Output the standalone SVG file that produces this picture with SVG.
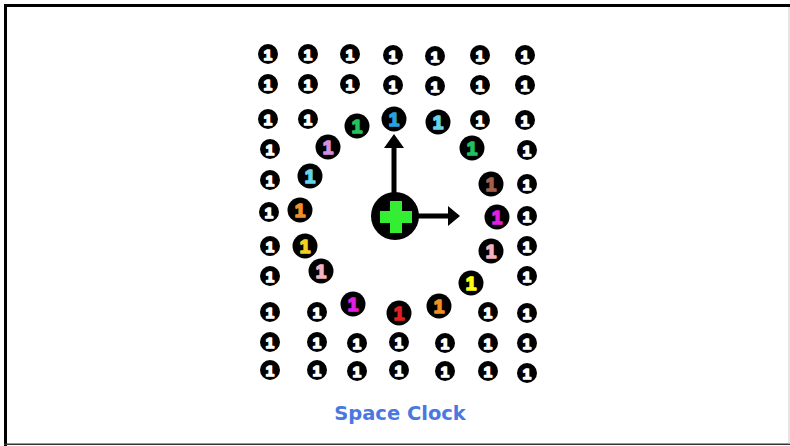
<svg xmlns="http://www.w3.org/2000/svg" width="790" height="446" viewBox="0 0 790 446">
<style>
.d{fill:#000}
.w{font-family:"Liberation Sans",Arial,sans-serif;font-weight:bold;font-size:15px;fill:#fff;stroke:#fff;stroke-width:1.7;stroke-linejoin:round;text-anchor:middle}
.c{font-family:"Liberation Sans",Arial,sans-serif;font-weight:bold;font-size:19px;stroke-width:1.7;stroke-linejoin:round;text-anchor:middle}
.ln{stroke:#000;stroke-width:5;fill:none}
.title{font-family:"DejaVu Sans",sans-serif;font-weight:bold;font-size:19.5px;fill:#4a78e0;text-anchor:middle}
</style>
<rect x="0" y="0" width="790" height="446" fill="#fff"/>
<rect x="4" y="4" width="786" height="3" fill="#000"/>
<rect x="4" y="4" width="3" height="442" fill="#000"/>
<rect x="4" y="443.5" width="786" height="1.5" fill="#333"/>
<rect x="788.5" y="7" width="1" height="437" fill="#ccc"/>

<g id="grid">
<g id="n1-1"><circle class="d" cx="268" cy="54" r="10"/><text class="w" x="268" y="59.5">1</text></g>
<g id="n1-2"><circle class="d" cx="308" cy="54" r="10"/><text class="w" x="308" y="59.5">1</text></g>
<g id="n1-3"><circle class="d" cx="350" cy="54" r="10"/><text class="w" x="350" y="59.5">1</text></g>
<g id="n1-4"><circle class="d" cx="393" cy="55" r="10"/><text class="w" x="393" y="60.5">1</text></g>
<g id="n1-5"><circle class="d" cx="435" cy="56" r="10"/><text class="w" x="435" y="61.5">1</text></g>
<g id="n1-6"><circle class="d" cx="480" cy="55" r="10"/><text class="w" x="480" y="60.5">1</text></g>
<g id="n1-7"><circle class="d" cx="525" cy="55" r="10"/><text class="w" x="525" y="60.5">1</text></g>

<g id="n2-1"><circle class="d" cx="268" cy="84" r="10"/><text class="w" x="268" y="89.5">1</text></g>
<g id="n2-2"><circle class="d" cx="308" cy="84" r="10"/><text class="w" x="308" y="89.5">1</text></g>
<g id="n2-3"><circle class="d" cx="350" cy="84" r="10"/><text class="w" x="350" y="89.5">1</text></g>
<g id="n2-4"><circle class="d" cx="393" cy="85" r="10"/><text class="w" x="393" y="90.5">1</text></g>
<g id="n2-5"><circle class="d" cx="435" cy="86" r="10"/><text class="w" x="435" y="91.5">1</text></g>
<g id="n2-6"><circle class="d" cx="480" cy="85" r="10"/><text class="w" x="480" y="90.5">1</text></g>
<g id="n2-7"><circle class="d" cx="525" cy="85" r="10"/><text class="w" x="525" y="90.5">1</text></g>

<g id="n3-1"><circle class="d" cx="268" cy="119" r="10"/><text class="w" x="268" y="124.5">1</text></g>
<g id="n3-2"><circle class="d" cx="308" cy="119" r="10"/><text class="w" x="308" y="124.5">1</text></g>
<g id="n3-3"><circle class="d" cx="357" cy="126" r="12.5"/><text class="c" x="357" y="133" fill="#22c45a" stroke="#22c45a">1</text></g>
<g id="n3-4"><circle class="d" cx="394" cy="119" r="12.5"/><text class="c" x="394" y="126" fill="#29a0e0" stroke="#29a0e0">1</text></g>
<g id="n3-5"><circle class="d" cx="438" cy="122" r="12.5"/><text class="c" x="438" y="129" fill="#66d4ea" stroke="#66d4ea">1</text></g>
<g id="n3-6"><circle class="d" cx="480" cy="120" r="10"/><text class="w" x="480" y="125.5">1</text></g>
<g id="n3-7"><circle class="d" cx="525" cy="120" r="10"/><text class="w" x="525" y="125.5">1</text></g>

<g id="n4-1"><circle class="d" cx="270" cy="149" r="10"/><text class="w" x="270" y="154.5">1</text></g>
<g id="n4-2"><circle class="d" cx="328" cy="147" r="12.5"/><text class="c" x="328" y="154" fill="#d88ee0" stroke="#d88ee0">1</text></g>
<g id="n4-3"><circle class="d" cx="472" cy="148" r="12.5"/><text class="c" x="472" y="155" fill="#22c060" stroke="#22c060">1</text></g>
<g id="n4-4"><circle class="d" cx="527" cy="150" r="10"/><text class="w" x="527" y="155.5">1</text></g>

<g id="n5-1"><circle class="d" cx="270" cy="180" r="10"/><text class="w" x="270" y="185.5">1</text></g>
<g id="n5-2"><circle class="d" cx="310" cy="176" r="12.5"/><text class="c" x="310" y="183" fill="#66d4ea" stroke="#66d4ea">1</text></g>
<g id="n5-3"><circle class="d" cx="491" cy="184" r="12.5"/><text class="c" x="491" y="191" fill="#a4604c" stroke="#a4604c">1</text></g>
<g id="n5-4"><circle class="d" cx="527" cy="184" r="10"/><text class="w" x="527" y="189.5">1</text></g>

<g id="n6-1"><circle class="d" cx="269" cy="212" r="10"/><text class="w" x="269" y="217.5">1</text></g>
<g id="n6-2"><circle class="d" cx="300" cy="210" r="12.5"/><text class="c" x="300" y="217" fill="#f0902a" stroke="#f0902a">1</text></g>
<g id="n6-3"><circle class="d" cx="497" cy="217" r="12.5"/><text class="c" x="497" y="224" fill="#e020e0" stroke="#e020e0">1</text></g>
<g id="n6-4"><circle class="d" cx="527" cy="216" r="10"/><text class="w" x="527" y="221.5">1</text></g>

<g id="n7-1"><circle class="d" cx="270" cy="246" r="10"/><text class="w" x="270" y="251.5">1</text></g>
<g id="n7-2"><circle class="d" cx="305" cy="246" r="12.5"/><text class="c" x="305" y="253" fill="#f0d020" stroke="#f0d020">1</text></g>
<g id="n7-3"><circle class="d" cx="491" cy="251" r="12.5"/><text class="c" x="491" y="258" fill="#f2b4bc" stroke="#f2b4bc">1</text></g>
<g id="n7-4"><circle class="d" cx="527" cy="246" r="10"/><text class="w" x="527" y="251.5">1</text></g>

<g id="n8-1"><circle class="d" cx="270" cy="276" r="10"/><text class="w" x="270" y="281.5">1</text></g>
<g id="n8-2"><circle class="d" cx="321" cy="271" r="12.5"/><text class="c" x="321" y="278" fill="#f2b4c0" stroke="#f2b4c0">1</text></g>
<g id="n8-3"><circle class="d" cx="471" cy="283" r="12.5"/><text class="c" x="471" y="290" fill="#ffff10" stroke="#ffff10">1</text></g>
<g id="n8-4"><circle class="d" cx="527" cy="276" r="10"/><text class="w" x="527" y="281.5">1</text></g>

<g id="n9-1"><circle class="d" cx="270" cy="312" r="10"/><text class="w" x="270" y="317.5">1</text></g>
<g id="n9-2"><circle class="d" cx="317" cy="312" r="10"/><text class="w" x="317" y="317.5">1</text></g>
<g id="n9-3"><circle class="d" cx="353" cy="304" r="12.5"/><text class="c" x="353" y="311" fill="#e020e0" stroke="#e020e0">1</text></g>
<g id="n9-4"><circle class="d" cx="399" cy="313" r="12.5"/><text class="c" x="399" y="320" fill="#e02020" stroke="#e02020">1</text></g>
<g id="n9-5"><circle class="d" cx="439" cy="306" r="12.5"/><text class="c" x="439" y="313" fill="#f09020" stroke="#f09020">1</text></g>
<g id="n9-6"><circle class="d" cx="488" cy="312" r="10"/><text class="w" x="488" y="317.5">1</text></g>
<g id="n9-7"><circle class="d" cx="527" cy="313" r="10"/><text class="w" x="527" y="318.5">1</text></g>

<g id="n10-1"><circle class="d" cx="270" cy="342" r="10"/><text class="w" x="270" y="347.5">1</text></g>
<g id="n10-2"><circle class="d" cx="317" cy="342" r="10"/><text class="w" x="317" y="347.5">1</text></g>
<g id="n10-3"><circle class="d" cx="357" cy="343" r="10"/><text class="w" x="357" y="348.5">1</text></g>
<g id="n10-4"><circle class="d" cx="399" cy="342" r="10"/><text class="w" x="399" y="347.5">1</text></g>
<g id="n10-5"><circle class="d" cx="445" cy="343" r="10"/><text class="w" x="445" y="348.5">1</text></g>
<g id="n10-6"><circle class="d" cx="488" cy="343" r="10"/><text class="w" x="488" y="348.5">1</text></g>
<g id="n10-7"><circle class="d" cx="527" cy="343" r="10"/><text class="w" x="527" y="348.5">1</text></g>

<g id="n11-1"><circle class="d" cx="270" cy="370" r="10"/><text class="w" x="270" y="375.5">1</text></g>
<g id="n11-2"><circle class="d" cx="317" cy="370" r="10"/><text class="w" x="317" y="375.5">1</text></g>
<g id="n11-3"><circle class="d" cx="357" cy="371" r="10"/><text class="w" x="357" y="376.5">1</text></g>
<g id="n11-4"><circle class="d" cx="399" cy="370" r="10"/><text class="w" x="399" y="375.5">1</text></g>
<g id="n11-5"><circle class="d" cx="445" cy="371" r="10"/><text class="w" x="445" y="376.5">1</text></g>
<g id="n11-6"><circle class="d" cx="488" cy="371" r="10"/><text class="w" x="488" y="376.5">1</text></g>
<g id="n11-7"><circle class="d" cx="527" cy="373" r="10"/><text class="w" x="527" y="378.5">1</text></g>
</g>

<g id="connectors">
<line class="ln" x1="394" y1="194" x2="394" y2="146"/>
<polygon points="394,134 384,148 404,148" fill="#000"/>
<line class="ln" x1="417" y1="216" x2="450" y2="216"/>
<polygon points="460,216 448,206 448,226" fill="#000"/>
</g>

<g id="center">
<circle class="d" cx="395" cy="216" r="24"/>
<path d="M390 201h12v10h10v12h-10v10h-12v-10h-10v-12h10z" fill="#33ee33"/>
</g>

<text class="title" x="400" y="420">Space Clock</text>
</svg>
